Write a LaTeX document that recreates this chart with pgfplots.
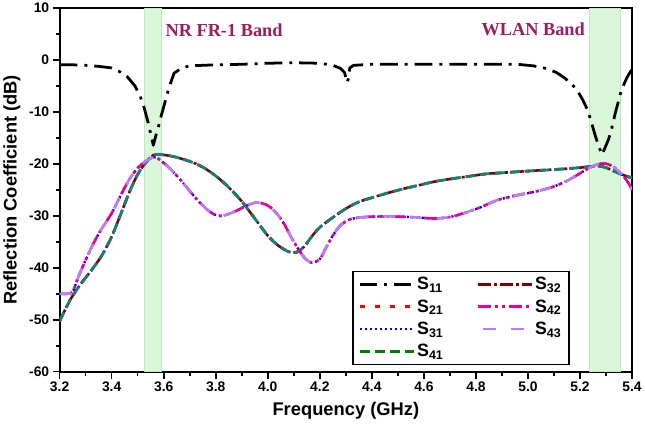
\documentclass[border=0pt]{standalone}
\usepackage{fontspec}
\setmainfont{Liberation Sans}
\newfontfamily\bandfont{Liberation Serif}
\usepackage{pgfplots}
\usepackage{pgfplotstable}
\pgfplotsset{compat=1.18}
\definecolor{bandlbl}{RGB}{155,28,95}
\definecolor{bandfill}{RGB}{218,247,218}
\definecolor{bandedge}{RGB}{190,232,190}
\definecolor{sTeal}{RGB}{20,128,120}
\definecolor{sGreen}{RGB}{0,128,0}
\definecolor{sDark}{RGB}{128,0,0}
\definecolor{sLav}{RGB}{185,125,250}

\pgfplotstableread{
f s
3.20 -0.9
3.25 -0.9
3.30 -1.0
3.35 -1.2
3.40 -1.5
3.43 -2.2
3.46 -3.2
3.49 -5.0
3.51 -7.0
3.525 -9.2
3.54 -12.0
3.55 -14.2
3.56 -16.4
3.57 -14.5
3.58 -12.8
3.59 -10.8
3.60 -9.0
3.62 -5.3
3.64 -2.5
3.67 -1.5
3.70 -1.1
3.80 -0.9
3.90 -0.8
4.00 -0.6
4.10 -0.5
4.20 -0.6
4.25 -1.0
4.28 -1.6
4.295 -2.4
4.305 -4.3
4.31 -3.5
4.315 -1.5
4.33 -1.0
4.40 -0.8
4.60 -0.8
4.80 -0.8
4.96 -0.8
5.02 -1.1
5.07 -1.6
5.11 -2.4
5.14 -3.4
5.17 -4.7
5.19 -5.9
5.21 -7.6
5.23 -9.7
5.245 -12.2
5.26 -14.8
5.275 -17.0
5.285 -18.2
5.295 -17.0
5.31 -15.2
5.32 -13.5
5.335 -10.3
5.355 -6.5
5.37 -4.5
5.38 -3.4
5.40 -1.7
}\tabSeleven

\pgfplotstableread{
f s
3.20 -50.3
3.24 -46.2
3.28 -43.2
3.32 -40.6
3.36 -37.8
3.40 -34.0
3.44 -29.0
3.47 -25.2
3.50 -22.0
3.53 -19.8
3.56 -18.3
3.59 -18.2
3.64 -18.6
3.70 -19.5
3.75 -20.6
3.80 -22.3
3.85 -24.5
3.90 -27.2
3.95 -30.5
4.00 -33.8
4.04 -35.7
4.08 -36.9
4.11 -37.0
4.14 -35.9
4.17 -33.9
4.20 -32.2
4.25 -30.3
4.30 -28.6
4.35 -27.3
4.40 -26.5
4.46 -25.6
4.52 -24.8
4.58 -24.1
4.64 -23.4
4.70 -22.9
4.77 -22.4
4.84 -21.9
4.90 -21.7
4.96 -21.5
5.02 -21.3
5.09 -21.1
5.15 -20.9
5.20 -20.7
5.24 -20.5
5.27 -20.4
5.30 -20.7
5.34 -21.6
5.37 -22.2
5.40 -22.7
}\tabA

\pgfplotstableread{
f s
3.20 -45.0
3.23 -45.0
3.25 -44.6
3.27 -42.0
3.30 -38.5
3.33 -35.3
3.36 -32.6
3.40 -29.5
3.44 -25.5
3.47 -22.8
3.50 -20.8
3.53 -19.5
3.56 -18.7
3.58 -19.0
3.62 -20.7
3.66 -22.8
3.70 -25.2
3.74 -27.5
3.78 -29.3
3.81 -30.0
3.84 -29.8
3.88 -29.0
3.92 -28.0
3.96 -27.4
4.00 -28.0
4.03 -29.3
4.06 -31.3
4.10 -35.0
4.14 -38.0
4.17 -39.0
4.20 -38.3
4.22 -36.5
4.25 -33.8
4.28 -31.8
4.32 -30.6
4.38 -30.2
4.46 -30.1
4.54 -30.2
4.60 -30.4
4.65 -30.5
4.71 -30.1
4.77 -29.2
4.82 -28.3
4.88 -27.0
4.95 -26.1
5.03 -25.3
5.09 -24.5
5.14 -23.5
5.18 -22.4
5.22 -21.2
5.26 -20.2
5.29 -19.9
5.31 -20.1
5.33 -20.6
5.35 -21.5
5.37 -22.5
5.39 -24.0
5.40 -25.0
}\tabB

\begin{document}
\begin{tikzpicture}
\begin{axis}[
  scale only axis,
  width=578pt, height=367pt,
  xmin=3.2, xmax=5.4, ymin=-60, ymax=10,
  xtick={3.2,3.4,3.6,3.8,4.0,4.2,4.4,4.6,4.8,5.0,5.2,5.4},
  ytick={-60,-50,-40,-30,-20,-10,0,10},
  minor x tick num=1, minor y tick num=1,
  tick pos=left, tick align=outside,
  major tick length=7pt, minor tick length=4pt,
  every tick/.style={black, line width=1.6pt},
  axis line style={line width=2pt},
  /pgf/number format/assume math mode=true,
  ticklabel style={font=\fontsize{14}{16}\selectfont\bfseries},
  x tick label style={/pgf/number format/.cd, fixed, fixed zerofill, precision=1, /tikz/.cd},
  y tick label style={/pgf/number format/.cd, fixed, precision=0, /tikz/.cd},
  xlabel={Frequency (GHz)}, ylabel={Reflection Coefficient (dB)},
  label style={font=\fontsize{18.5}{20}\selectfont\bfseries},
  xlabel style={yshift=-4pt},
  ylabel style={yshift=2pt},
  legend columns=2,
  legend cell align=left,
  legend image code/.code={\draw[#1] (0pt,0pt) -- (54pt,0pt);},
  legend style={at={(0.511,0.278)}, anchor=north west, draw=black, line width=1.6pt,
    font=\fontsize{18}{20}\selectfont\bfseries, inner xsep=6pt, inner ysep=4pt,
    row sep=4.5pt, /tikz/every even column/.append style={column sep=32pt}},
]
% bands
\addplot[fill=bandfill, draw=bandedge, line width=0.8pt, forget plot] coordinates {(3.525,-60) (3.59,-60) (3.59,10) (3.525,10)} -- cycle;
\addplot[fill=bandfill, draw=bandedge, line width=0.8pt, forget plot] coordinates {(5.237,-60) (5.355,-60) (5.355,10) (5.237,10)} -- cycle;

\node[font=\bandfont\fontsize{18.5}{20}\selectfont\bfseries, text=bandlbl] at (axis cs:3.832,5.7) {NR FR-1 Band};
\node[font=\bandfont\fontsize{18.5}{20}\selectfont\bfseries, text=bandlbl] at (axis cs:5.02,5.9) {WLAN Band};

% curves
\addplot[black, line width=2.8pt, line join=round, dash pattern=on 18pt off 7pt on 3pt off 7pt, forget plot] table[x=f,y=s] {\tabSeleven};
\addplot[red, line width=2.6pt, smooth, tension=0.5, dash pattern=on 5pt off 10pt, forget plot] table[x=f,y=s] {\tabA};
\addplot[sDark, line width=2.6pt, smooth, tension=0.5, dash pattern=on 13pt off 3pt on 3pt off 3pt, forget plot] table[x=f,y=s] {\tabA};
\addplot[sTeal, line width=2.8pt, smooth, tension=0.5, dash pattern=on 10pt off 5pt, forget plot] table[x=f,y=s] {\tabA};
\addplot[blue, line width=2.4pt, smooth, tension=0.5, dash pattern=on 2pt off 3pt, forget plot] table[x=f,y=s] {\tabB};
\addplot[magenta, line width=2.6pt, smooth, tension=0.5, dash pattern=on 13pt off 4pt on 3pt off 4pt on 3pt off 4pt, forget plot] table[x=f,y=s] {\tabB};
\addplot[sLav, line width=2.6pt, smooth, tension=0.5, dash pattern=on 12pt off 15pt, forget plot] table[x=f,y=s] {\tabB};

% legend (row-wise: col1 S11,S21,S31,S41 ; col2 S32,S42,S43)
\addlegendimage{black, line width=2.8pt, dash pattern=on 17pt off 7pt on 3pt off 7pt}
\addlegendentry{S\textsubscript{11}}
\addlegendimage{sDark, line width=2.6pt, dash pattern=on 13pt off 3pt on 3pt off 3pt}
\addlegendentry{S\textsubscript{32}}
\addlegendimage{red, line width=2.6pt, dash pattern=on 5pt off 10pt}
\addlegendentry{S\textsubscript{21}}
\addlegendimage{magenta, line width=2.6pt, dash pattern=on 13pt off 4pt on 3pt off 4pt on 3pt off 4pt}
\addlegendentry{S\textsubscript{42}}
\addlegendimage{blue, line width=2.4pt, dash pattern=on 2pt off 3pt}
\addlegendentry{S\textsubscript{31}}
\addlegendimage{sLav, line width=2.6pt, dash pattern=on 0pt off 5pt on 13pt off 15pt on 13pt off 10pt}
\addlegendentry{S\textsubscript{43}}
\addlegendimage{sGreen, line width=2.6pt, dash pattern=on 10pt off 5pt}
\addlegendentry{S\textsubscript{41}}
\end{axis}
\end{tikzpicture}
\end{document}
